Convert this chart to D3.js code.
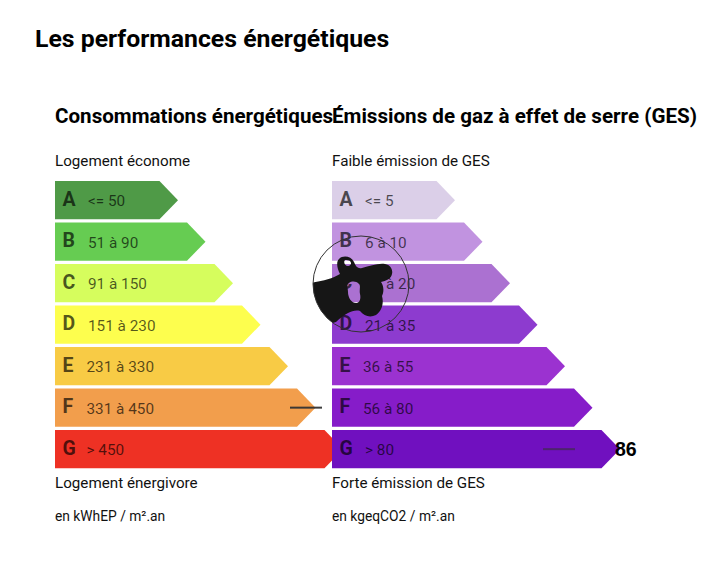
<!DOCTYPE html>
<html lang="fr"><head><meta charset="utf-8">
<script src="https://cdn.jsdelivr.net/npm/d3@7/dist/d3.min.js"></script>
<style>html,body{margin:0;padding:0;background:#fff}svg{display:block}text{font-family:Roboto,sans-serif}</style>
</head><body><svg id="c" width="720" height="571"></svg>
<script>
const grades = ["A","B","C","D","E","F","G"];
const barLengths = [1,2,3,4,5,6,7];
const energyRanges = ["<= 50","51 à 90","91 à 150","151 à 230","231 à 330","331 à 450","> 450"];
const gesRanges = ["<= 5","6 à 10","11 à 20","21 à 35","36 à 55","56 à 80","> 80"];
const energyColors = ["#4f9a47","#66cc52","#d6fd5d","#fdfe4e","#f8cb45","#f29e4c","#ee3124"];
const gesColors = ["#dbcfe8","#c193e0","#ab71d1","#8d3bcf","#9b32d0","#861cc9","#7010bf"];
const energyGrade = "F";
const gesGrade = "G";
const gesValue = "86";

const svg = d3.select("#c");
const y = d3.scaleBand().domain(grades).range([181, 468.3]).paddingInner(0.077).paddingOuter(0);
const len = d3.scaleLinear().domain([1,7]).range([123,288]);
const tip = 18.5;

function panel(o){
  const g = svg.append("g").attr("transform",`translate(${o.x},0)`);
  const h = y.bandwidth();
  g.append("text").attr("x",0).attr("y",123).attr("font-size",20.6).attr("font-weight",700).attr("fill","#000").text(o.title);
  g.append("text").attr("x",0).attr("y",166).attr("font-size",15.2).attr("fill","#111").text(o.top);
  g.append("text").attr("x",0).attr("y",488).attr("font-size",15.2).attr("fill","#111").text(o.bottom);
  g.append("text").attr("x",0).attr("y",521).attr("font-size",13.8).attr("fill","#111").text(o.unit);
  const row = g.selectAll("g.row").data(grades).join("g").attr("class","row")
    .attr("transform",d=>`translate(0,${y(d)})`);
  row.append("path").attr("fill",(d,i)=>o.colors[i])
    .attr("d",(d,i)=>{const w=len(barLengths[i]);
      return d3.line()([[0,0],[w-tip,0],[w,h/2],[w-tip,h],[0,h]])+"Z";});
  row.append("text").attr("x",7.5).attr("y",h/2+5.7).attr("font-size",19.5).attr("font-weight",700)
    .attr("fill","#000").attr("fill-opacity",0.68).text(d=>d);
  row.append("text").attr("x",(d,i)=>o.nudge(i)).attr("y",h/2+6).attr("font-size",15.3)
    .attr("fill","#000").attr("fill-opacity",0.66).text((d,i)=>o.ranges[i]);
  const m = y(o.grade)+h/2;
  g.append("line").attr("x1",o.mark[0]).attr("x2",o.mark[1]).attr("y1",m).attr("y2",m)
    .attr("stroke","#333").attr("stroke-opacity",o.markOpacity).attr("stroke-width",2);
}
panel({x:55,title:"Consommations énergétiques",top:"Logement économe",bottom:"Logement énergivore",unit:"en kWhEP / m².an",
  ranges:energyRanges,colors:energyColors,grade:energyGrade,mark:[235,267],markOpacity:.95,nudge:i=>i>=4?31.5:33});
panel({x:332,title:"Émissions de gaz à effet de serre (GES)",top:"Faible émission de GES",bottom:"Forte émission de GES",unit:"en kgeqCO2 / m².an",
  ranges:gesRanges,colors:gesColors,grade:gesGrade,mark:[211,243],markOpacity:.6,nudge:i=>i>=4&&i<6?31:33});

svg.append("text").attr("x",35).attr("y",47).attr("font-size",24.8).attr("font-weight",700).attr("fill","#000").text("Les performances énergétiques");
svg.append("text").attr("x",615).attr("y",y(gesGrade)+y.bandwidth()/2+7)
  .style("font-family","'Liberation Sans'").attr("font-size",19.5).attr("font-weight",700).attr("fill","#000").text(gesValue);

// pointer cursor overlay
const cx=361, cy=284, r=48;
svg.append("defs").append("clipPath").attr("id","cc").append("circle").attr("cx",cx).attr("cy",cy).attr("r",r);
const hand = svg.append("g").attr("clip-path","url(#cc)");
hand.append("path").attr("fill","#161616").attr("fill-rule","evenodd")
 .attr("d","M310,283 C322,281 332,279 340,274 C337,268 336,262 339,259 C343,255 351,256 354,262 C356,267 358,269 362,268 C370,266 378,263 385,264 C391,265 393,270 392,274 C391,279 386,281 381,282 C384,286 384,292 382,296 C384,303 382,311 376,315 C370,318 364,316 360,311 C356,310 352,311 348,313 C344,315 340,318 336,322 L310,330 Z M345,260 C343,262 345,266 348,266 C351,266 352,263 350,261 C349,260 347,260 345,260 Z M349,283 C346,285 348,288 348,292 C348,297 351,303 356,303 C360,303 361,298 360,294 C359,290 361,286 359,284 C356,281 352,281 349,283 Z");
svg.append("circle").attr("cx",cx).attr("cy",cy).attr("r",r).attr("fill","none").attr("stroke","#333").attr("stroke-width",1);
</script></body></html>
